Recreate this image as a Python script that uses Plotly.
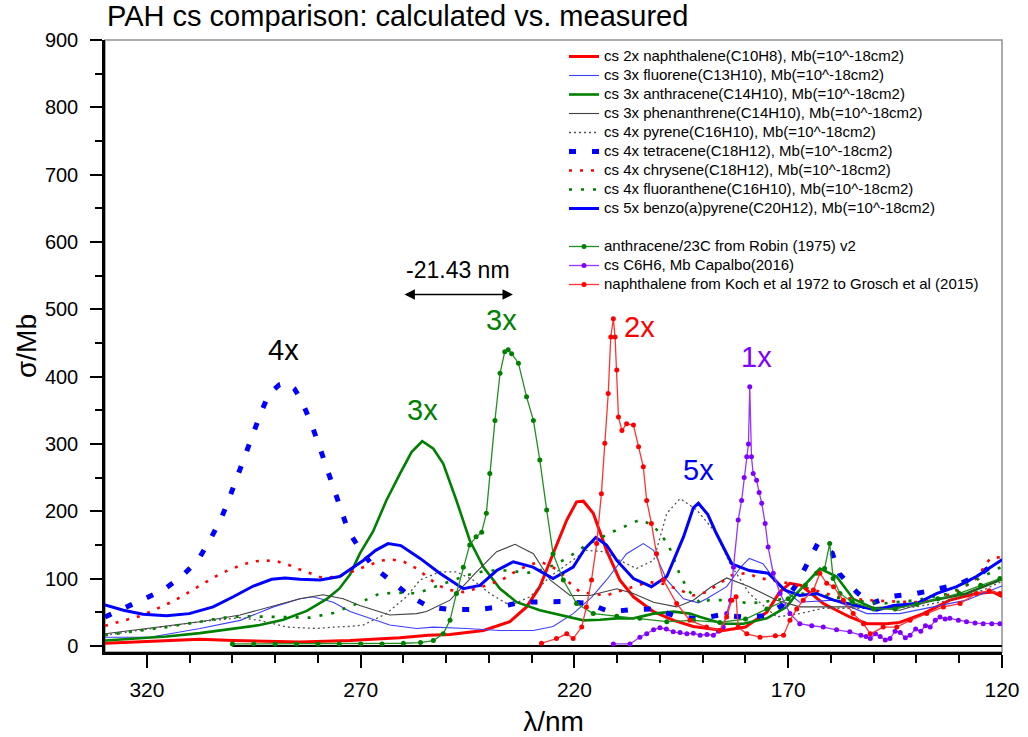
import plotly.graph_objects as go

# ---------------- calculated (scaled) cross sections: wavelength [nm], sigma [Mb]
naph_x = [329.8, 315.4, 307.6, 299.8, 284.2, 272.5, 260.8, 254.2, 249.1, 241.3, 235.1, 231.2, 228.1, 225, 221.8,
          219.5, 217.9, 215.6, 212.5, 209.4, 206.2, 201.5, 196.8, 192.2, 185.2, 180, 175, 172, 169.6, 167, 164,
          161.8, 155.6, 151.6, 147, 143.9, 138.4, 132.2, 126, 122, 120]
naph_y = [4, 8, 10, 8, 6, 8, 12, 16, 17, 23, 36, 58, 88, 137, 187, 214, 215, 197, 142, 98, 73, 51, 38, 29, 23,
          28, 50, 80, 93, 90, 75, 63, 43, 33, 33, 35, 48, 68, 78, 80, 73]

fluo_x = [329.8, 319.3, 307.6, 298.2, 290.4, 284.2, 281.1, 276.4, 272.5, 268.6, 263.2, 256.9, 253, 245.2, 237.4,
          229.6, 225, 220.3, 216, 212.5, 207.8, 203.9, 201.5, 198.4, 194.5, 191, 189.1, 184.4, 181, 179.1, 175.9,
          172, 167.3, 159.4, 151.6, 143.9, 136.1, 128.3, 120.5, 120]
fluo_y = [13, 13, 26, 38, 58, 70, 73, 65, 51, 43, 31, 26, 28, 26, 23, 23, 29, 48, 72, 98, 137, 152, 142, 98, 70,
          64, 70, 88, 118, 130, 122, 88, 65, 68, 48, 48, 58, 68, 88, 89]

anth_x = [329.8, 323.2, 315.4, 307.6, 299.8, 293.6, 288.1, 282.6, 277.9, 275.0, 272.5, 270.2, 267.1, 264.0, 260.8,
          258.1, 255.6, 253.0, 250.7, 247.6, 244.5, 241.3, 237.4, 233.5, 228.1, 221.8, 217.9, 214.0, 210.1, 206.2,
          201.5, 196.8, 193, 190.6, 185.2, 180.5, 175, 170.4, 167.3, 162.6, 158.7, 154.8, 150.1, 143.9, 136.1,
          128.3, 120.5, 120]
anth_y = [8, 11, 14, 19, 26, 31, 39, 52, 70, 85, 106, 137, 170, 216, 256, 288, 304, 293, 271, 216, 157, 117, 85,
          65, 53, 44, 38, 39, 41, 41, 48, 51, 48, 43, 33, 33, 41, 58, 83, 115, 103, 70, 56, 58, 68, 78, 98, 99]

phen_x = [329.8, 319.3, 307.6, 298.2, 290.4, 284.2, 278.8, 274.1, 270.2, 263.2, 256.9, 254.6, 249.1, 242.9, 238.2,
          233.9, 229.6, 225.7, 221, 216.4, 210.1, 206.2, 201.5, 196.1, 192.2, 188, 184.4, 179.1, 172.7, 167.3,
          159.4, 151.6, 143.9, 136.1, 128.3, 120.5, 120]
phen_y = [18, 26, 36, 46, 59, 70, 76, 70, 60, 46, 48, 51, 68, 110, 140, 151, 137, 98, 75, 75, 85, 78, 65, 58, 68,
          88, 101, 88, 68, 58, 58, 58, 53, 68, 78, 98, 99]

pyr_x = [329.8, 320, 307.6, 298.2, 293.6, 287.3, 280.3, 276.4, 272.5, 269.4, 264, 259.3, 256.1, 251.5, 247.6,
         243.7, 239.8, 235.1, 230.4, 225.7, 221, 217.2, 213, 209.4, 205.5, 201.5, 198.4, 195.3, 191.4, 186.8,
         183.6, 179.1, 172.7, 167.3, 161.8, 155, 147.8, 140, 132.2, 124.4, 120.5, 120]
pyr_y = [16, 25, 36, 42, 38, 28, 26, 28, 29, 31, 48, 73, 98, 110, 110, 98, 78, 60, 73, 103, 125, 142, 140, 127,
         115, 127, 197, 219, 202, 167, 122, 78, 43, 48, 56, 56, 56, 58, 68, 83, 95, 96]

tetr_x = [329.8, 320.9, 316.2, 311.9, 308.1, 305.3, 302.7, 300.7, 298.9, 297.1, 295.4, 293.3, 291.4, 289, 287.1,
          285.5, 283.8, 281.6, 279.8, 278.1, 276.4, 274.7, 272.9, 270.0, 266.9, 262.6, 258.5, 254.0, 249, 242.7,
          237.4, 232.4, 227, 221.8, 216.8, 211.8, 206.3, 201.2, 196.1, 191, 186, 180.6, 175.4, 171.5, 168, 165.5,
          163.1, 159.7, 158, 154, 150.8, 145.5, 140, 135.4, 130, 125.5, 121.6, 120]
tetr_y = [43, 68, 83, 103, 127, 157, 188, 220, 251, 283, 316, 347, 375, 388, 391, 382, 364, 331, 299, 267, 235,
          202, 171, 142, 117, 95, 74, 58, 54, 54, 58, 65, 65, 66, 63, 51, 54, 55, 44, 40, 46, 43, 45, 60, 92, 122,
          152, 138, 107, 80, 63, 74, 78, 84, 92, 105, 123, 128]

chry_x = [329.8, 327.5, 324.7, 321.8, 319.1, 316.6, 314.0, 311.5, 308.9, 306.2, 303.7, 301.1, 298.4, 295.5, 292.6,
          289.8, 287.1, 284.4, 281.5, 278.9, 275.6, 272.9, 270.2, 267.8, 265.1, 262.4, 259.9, 256.9, 254.4, 251.9,
          249.1, 246, 242.5, 239.5, 237.0, 233.9, 230.8, 228.1, 225.5, 223, 221.4, 218.7, 215.8, 212.6, 210.1, 206,
          202.7, 199, 195.3, 192.2, 189.1, 186.0, 183.2, 180, 176, 171.3, 165, 158, 151.6, 145, 139.2, 135, 130,
          126, 122.8, 120]
chry_y = [30, 34, 38, 44, 51, 58, 66, 75, 85, 95, 104, 112, 119, 125, 127, 126, 121, 114, 107, 101, 103, 108, 115,
          121, 127, 128, 125, 115, 103, 90, 83, 80, 86, 92, 98, 110, 120, 125, 119, 108, 95, 80, 78, 75, 80, 88, 95,
          92, 83, 75, 80, 93, 105, 108, 100, 95, 85, 72, 68, 66, 65, 70, 82, 100, 130, 132]

flan_x = [329.8, 323.2, 315.4, 307.6, 302.2, 296.7, 290.4, 285.7, 281.9, 276.4, 270, 265.5, 260, 256.9, 251,
          245.2, 240.5, 235.1, 231.2, 226.5, 221.8, 217.2, 210.9, 207.5, 204.5, 201.5, 200, 198, 195.3, 193.3,
          190.3, 188.6, 183.6, 179.1, 172.7, 167.3, 161.5, 155.6, 147.8, 140, 132.2, 124.4, 120.5, 120]
flan_y = [16, 21, 28, 36, 42, 44, 43, 42, 42, 49, 65, 78, 79, 78, 92, 105, 112, 112, 108, 115, 130, 150, 170, 180,
          188, 178, 167, 150, 105, 82, 62, 68, 68, 63, 68, 78, 75, 68, 63, 68, 78, 103, 117, 118]

bap_x = [329.8, 325.5, 320.9, 315.4, 310.1, 304.5, 299.8, 295.1, 290.8, 287.7, 284.2, 279.5, 274.9, 272, 269.4,
         266.5, 263.6, 260.6, 256.1, 251.5, 246.0, 242.1, 238.2, 234.3, 229.7, 225, 220.3, 217.5, 215, 212.5, 210.1,
         206.2, 202, 198.4, 194.5, 192.2, 191.0, 188.8, 186.8, 183.2, 179.1, 174.7, 170.8, 167.3, 163.4, 159.4,
         154, 149.3, 145.4, 140, 135.2, 130.6, 126, 120.5, 120]
bap_y = [61, 53, 47, 45, 48, 58, 73, 89, 99, 101, 99, 98, 103, 115, 127, 142, 152, 149, 130, 108, 85, 90, 112,
         125, 117, 100, 117, 145, 161, 150, 127, 100, 88, 103, 162, 205, 212, 195, 167, 122, 112, 108, 83, 75, 78,
         68, 60, 53, 60, 63, 78, 88, 103, 127, 128]

# ---------------- measured cross sections
robin_x = [300, 295, 290, 285, 280, 275, 270, 265, 260, 256, 253, 250.7, 249.1, 247.6, 246, 244.5, 243, 241.7,
           240.6, 239.8, 238.6, 237.4, 236.3, 235.5, 234.7, 233.1, 231.2, 229.6, 228.1, 226.5, 225, 222.6, 219.5,
           215.6, 210.1, 204.7, 198.4, 192.2, 186, 180, 175, 170, 166, 163.4, 161.5, 160.3, 159.5, 157.9, 155, 150,
           145, 140, 135, 130, 125, 120.5]
robin_y = [3, 3, 3, 3, 3, 3, 3, 3, 4, 5, 8, 18, 38, 78, 117, 150, 162, 169, 197, 256, 335, 405, 437, 440, 434, 420,
           370, 335, 276, 202, 137, 98, 63, 48, 44, 41, 36, 38, 35, 40, 55, 70, 90, 108, 115, 152, 100, 78, 65, 55,
           55, 62, 70, 78, 90, 100]

benz_x = [210.9, 207, 204.7, 203.1, 201.5, 200, 198.5, 196.9, 195.3, 193.7, 192.2, 190.6, 189, 187.5, 186.3, 185.2,
          184.4, 183.5, 182.8, 181.7, 180.9, 180.3, 179.7, 179.3, 179.0, 178.6, 178.2, 177.4, 176.8, 176.2, 175.4,
          174.7, 173.5, 171.9, 169.6, 167.3, 164.5, 161.8, 158.7, 155.6, 153, 151.8, 150.8, 149.6, 148.5, 147.3,
          146.2, 145, 143.8, 142.6, 141.5, 140.2, 139, 137.9, 136.8, 135.6, 134.5, 133.3, 132.2, 130.2, 128.3,
          126.3, 124.4, 122.4, 120.5]
benz_y = [3, 3, 13, 18, 24, 27, 25, 21, 20, 18, 19, 16, 17, 16, 22, 28, 48, 68, 117, 187, 216, 250, 281, 300, 385,
          281, 256, 246, 228, 212, 182, 147, 108, 78, 48, 33, 30, 28, 24, 21, 16, 14, 11, 18, 14, 9, 11, 22, 20, 12,
          16, 25, 22, 30, 28, 38, 43, 40, 41, 38, 36, 34, 33, 33, 33]

koch_x = [227.7, 224.2, 221.8, 220.3, 218.3, 217.2, 216, 214.8, 213.7, 212.9, 212.1, 211.5, 210.9, 210.5, 210.1,
          209.7, 208.9, 207.8, 206.2, 205, 203.9, 203.1, 202, 200.8, 199.2, 196.1, 193, 189.1, 186, 184.4, 183.2,
          182.2, 181.7, 179.7, 176.6, 173, 171.1, 169.6, 168, 166.5, 164.1, 162.6, 161, 159.4, 157.1, 154.8, 152.4,
          150.8, 147.8, 144.6, 141.5, 137.6, 133.7, 129.8, 126, 123, 120.5]
koch_y = [4, 11, 18, 11, 28, 58, 98, 152, 226, 301, 375, 459, 486, 459, 410, 340, 320, 330, 328, 296, 266, 216,
          182, 137, 98, 63, 38, 28, 23, 43, 68, 73, 28, 18, 13, 15, 16, 38, 55, 68, 83, 108, 93, 88, 68, 48, 33,
          18, 28, 28, 38, 48, 58, 63, 78, 82, 78]

baseline_x = [300, 120]
baseline_y = [0, 0]

# ---------------- labels
calc_names = ["cs 2x naphthalene(C10H8), Mb(=10^-18cm2)",
              "cs 3x fluorene(C13H10), Mb(=10^-18cm2)",
              "cs 3x anthracene(C14H10), Mb(=10^-18cm2)",
              "cs 3x phenanthrene(C14H10), Mb(=10^-18cm2)",
              "cs 4x pyrene(C16H10), Mb(=10^-18cm2)",
              "cs 4x tetracene(C18H12), Mb(=10^-18cm2)",
              "cs 4x chrysene(C18H12), Mb(=10^-18cm2)",
              "cs 4x fluoranthene(C16H10), Mb(=10^-18cm2)",
              "cs 5x benzo(a)pyrene(C20H12), Mb(=10^-18cm2)"]
meas_names = ["anthracene/23C from Robin (1975) v2",
              "cs C6H6, Mb Capalbo(2016)",
              "naphthalene from Koch et al 1972 to Grosch et al (2015)"]

peak_labels = ["4x", "3x", "3x", "2x", "1x", "5x"]
peak_lx = [288.0, 255.5, 237.0, 204.8, 177.4, 191.0]
peak_ly = [440, 350, 484, 474, 429, 261]
peak_col = ["black", "#008000", "#008000", "#ff0000", "#8000ff", "#0000ff"]

shift_label = "-21.43 nm"
shift_from = 260.1
shift_to = 234.4
shift_level = 522

FONT = "Arial, Liberation Sans, sans-serif"

def lg(name):
    return '<span style="font-size:15px">' + name + '</span>'

fig = go.Figure()

calc_data = [(naph_x, naph_y), (fluo_x, fluo_y), (anth_x, anth_y), (phen_x, phen_y), (pyr_x, pyr_y),
             (tetr_x, tetr_y), (chry_x, chry_y), (flan_x, flan_y), (bap_x, bap_y)]
calc_style = [dict(color="#ff0000", width=3, dash="solid"),
              dict(color="#3f3fff", width=1.1, dash="solid"),
              dict(color="#008000", width=2.6, dash="solid"),
              dict(color="#404040", width=1.1, dash="solid"),
              dict(color="#505050", width=1.3, dash="2px,3px"),
              dict(color="#0000ff", width=5, dash="7px,16px"),
              dict(color="#ff0000", width=2.6, dash="3px,8px"),
              dict(color="#008000", width=2.6, dash="3px,9px"),
              dict(color="#0000ff", width=3, dash="solid")]

# baseline (no legend)
fig.add_trace(go.Scatter(x=baseline_x, y=baseline_y, mode="lines", line=dict(color="black", width=2),
                         showlegend=False, hoverinfo="skip"))

for (xs, ys), st, nm in zip(calc_data, calc_style, calc_names):
    fig.add_trace(go.Scatter(x=xs, y=ys, mode="lines", name=lg(nm), legendgroup="calc",
                             line=dict(color=st["color"], width=st["width"], dash=st["dash"])))

meas_data = [(robin_x, robin_y), (benz_x, benz_y), (koch_x, koch_y)]
meas_line = ["#209020", "#9933ff", "#ff3333"]
meas_mark = ["#008000", "#8000ff", "#ff0000"]
for (xs, ys), lc, mc, nm in zip(meas_data, meas_line, meas_mark, meas_names):
    fig.add_trace(go.Scatter(x=xs, y=ys, mode="lines+markers", name=lg(nm), legendgroup="meas",
                             line=dict(color=lc, width=1.3), marker=dict(color=mc, size=5)))

annotations = []
for t, x, y, c in zip(peak_labels, peak_lx, peak_ly, peak_col):
    annotations.append(dict(x=x, y=y, xref="x", yref="y", text=t, showarrow=False,
                            font=dict(family=FONT, size=29, color=c)))
annotations.append(dict(x=(shift_from + shift_to) / 2, y=shift_level + 37, xref="x", yref="y",
                        text=shift_label, showarrow=False, font=dict(family=FONT, size=23, color="black")))
annotations.append(dict(x=shift_to, y=shift_level, ax=shift_from, ay=shift_level, xref="x", yref="y",
                        axref="x", ayref="y", text="", showarrow=True, arrowhead=2, startarrowhead=2,
                        arrowside="end+start", arrowwidth=1.6, arrowsize=1.3, arrowcolor="black"))

fig.update_layout(
    width=1028, height=737,
    margin=dict(l=105, r=26, t=40, b=85, autoexpand=False),
    paper_bgcolor="white", plot_bgcolor="white",
    font=dict(family=FONT, color="black"),
    title=dict(text="PAH cs comparison: calculated vs. measured", font=dict(size=29, family=FONT),
               xref="container", x=107 / 1028, xanchor="left", yref="container", y=1 - 16 / 737,
               yanchor="middle"),
    showlegend=True,
    legend=dict(x=(564 - 105) / 897, y=(652 - 42) / 612, xanchor="left", yanchor="top",
                bgcolor="rgba(0,0,0,0)", font=dict(size=12, family=FONT), traceorder="grouped",
                tracegroupgap=19),
    annotations=annotations,
    shapes=[dict(type="rect", xref="paper", yref="paper", x0=0, x1=1, y0=0, y1=1,
                 line=dict(color="#909090", width=1.5), layer="below")],
)

fig.update_xaxes(range=[329.8, 120], tick0=120, dtick=50, showgrid=False, zeroline=False, automargin=False,
                 showline=True, linecolor="black", linewidth=2.5, ticks="outside", ticklen=13,
                 tickwidth=2, tickcolor="black", tickfont=dict(size=21, family=FONT),
                 ticklabelstandoff=4,
                 minor=dict(dtick=10, tick0=120, ticks="outside", ticklen=8, tickwidth=2, tickcolor="black"),
                 title=dict(text="λ/nm", font=dict(size=28, family=FONT), standoff=16))
fig.update_yaxes(range=[-9, 900], tick0=0, dtick=100, showgrid=False, zeroline=False, automargin=False,
                 showline=True, linecolor="black", linewidth=2.5, ticks="outside", ticklen=12,
                 tickwidth=2, tickcolor="black", tickfont=dict(size=20, family=FONT),
                 ticklabelstandoff=8,
                 minor=dict(dtick=50, tick0=0, ticks="outside", ticklen=7, tickwidth=2, tickcolor="black"),
                 title=dict(text="σ/Mb", font=dict(size=28, family=FONT), standoff=1))

fig.write_html("out.html")
